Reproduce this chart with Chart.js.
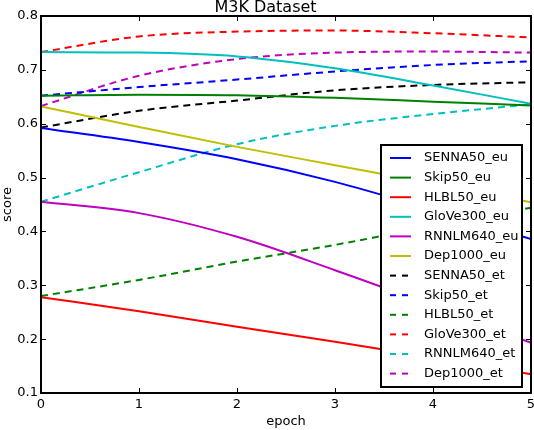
<!DOCTYPE html>
<html>
<head>
<meta charset="utf-8">
<script src="https://cdn.jsdelivr.net/npm/chart.js@4"></script>
<style>
  body { margin: 0; background: #fff; }
  canvas { display: block; }
</style>
</head>
<body>
<canvas id="scoreChart" width="534" height="430"></canvas>
<script>
// values at every epoch
const epochs = [0, 1, 2, 3, 4, 5];
const yTicks = [0.1, 0.2, 0.3, 0.4, 0.5, 0.6, 0.7, 0.8];

const senna50Eu  = [0.592, 0.566, 0.534, 0.492, 0.440, 0.386];
const skip50Eu   = [0.652, 0.654, 0.653, 0.648, 0.641, 0.634];
const hlbl50Eu   = [0.278, 0.252, 0.223, 0.195, 0.166, 0.135];
const glove300Eu = [0.733, 0.732, 0.725, 0.703, 0.671, 0.637];
const rnnlm640Eu = [0.455, 0.434, 0.390, 0.328, 0.262, 0.193];
const dep1000Eu  = [0.632, 0.594, 0.557, 0.523, 0.489, 0.454];
const senna50Et  = [0.593, 0.624, 0.643, 0.662, 0.672, 0.677];
const skip50Et   = [0.652, 0.668, 0.682, 0.697, 0.709, 0.716];
const hlbl50Et   = [0.280, 0.310, 0.344, 0.375, 0.410, 0.444];
const glove300Et = [0.733, 0.762, 0.771, 0.773, 0.768, 0.760];
const rnnlm640Et = [0.455, 0.510, 0.562, 0.596, 0.618, 0.636];
const dep1000Et  = [0.633, 0.689, 0.720, 0.732, 0.734, 0.732];

const FONT = "'DejaVu Sans', sans-serif";

function line(label, values, color, dashed) {
  return {
    label: label,
    data: epochs.map((e, i) => ({ x: e, y: values[i] })),
    borderColor: color,
    backgroundColor: color,
    borderWidth: 2,
    borderDash: dashed ? [7, 5] : [],
    pointRadius: 0,
    fill: false,
    cubicInterpolationMode: 'monotone'
  };
}

// frame + inward ticks, matplotlib classic look
const frameTicks = {
  id: 'frameTicks',
  afterDatasetsDraw(chart) {
    const ctx = chart.ctx, a = chart.chartArea;
    const xs = chart.scales.x, ys = chart.scales.y;
    ctx.save();
    ctx.strokeStyle = '#000';
    ctx.lineWidth = 1;
    ctx.beginPath();
    epochs.forEach(e => {
      const px = Math.round(xs.getPixelForValue(e)) + 0.5;
      ctx.moveTo(px, a.bottom); ctx.lineTo(px, a.bottom - 5);
      ctx.moveTo(px, a.top); ctx.lineTo(px, a.top + 5);
    });
    yTicks.forEach(v => {
      const py = Math.round(ys.getPixelForValue(v)) + 0.5;
      ctx.moveTo(a.left, py); ctx.lineTo(a.left + 5, py);
      ctx.moveTo(a.right, py); ctx.lineTo(a.right - 5, py);
    });
    ctx.stroke();
    ctx.lineWidth = 2;
    ctx.strokeRect(a.left, a.top, a.right - a.left, a.bottom - a.top);
    ctx.restore();
  }
};

// legend box inside the plot, lower right
const innerLegend = {
  id: 'innerLegend',
  afterDraw(chart) {
    const ctx = chart.ctx, a = chart.chartArea;
    const w = 141, h = 242;
    const left = a.right - 9 - w, top = a.bottom - 6 - h;
    ctx.save();
    ctx.fillStyle = '#fff';
    ctx.fillRect(left, top, w, h);
    ctx.strokeStyle = '#000';
    ctx.lineWidth = 2;
    ctx.strokeRect(left, top, w, h);
    ctx.font = '13px ' + FONT;
    ctx.textBaseline = 'middle';
    chart.data.datasets.forEach((ds, i) => {
      const y = top + 13 + i * 19.6;
      ctx.strokeStyle = ds.borderColor;
      ctx.lineWidth = 2;
      ctx.setLineDash(ds.borderDash.length ? [6, 6] : []);
      ctx.beginPath();
      ctx.moveTo(left + 9, y);
      ctx.lineTo(left + 30, y);
      ctx.stroke();
      ctx.setLineDash([]);
      ctx.fillStyle = '#000';
      ctx.fillText(ds.label, left + 43, y);
    });
    ctx.restore();
  }
};

new Chart(document.getElementById('scoreChart'), {
  type: 'line',
  data: {
    datasets: [
      line('SENNA50_eu', senna50Eu, '#0000ff', false),
      line('Skip50_eu', skip50Eu, '#008000', false),
      line('HLBL50_eu', hlbl50Eu, '#ff0000', false),
      line('GloVe300_eu', glove300Eu, '#00bfbf', false),
      line('RNNLM640_eu', rnnlm640Eu, '#bf00bf', false),
      line('Dep1000_eu', dep1000Eu, '#bfbf00', false),
      line('SENNA50_et', senna50Et, '#000000', true),
      line('Skip50_et', skip50Et, '#0000ff', true),
      line('HLBL50_et', hlbl50Et, '#008000', true),
      line('GloVe300_et', glove300Et, '#ff0000', true),
      line('RNNLM640_et', rnnlm640Et, '#00bfbf', true),
      line('Dep1000_et', dep1000Et, '#bf00bf', true)
    ]
  },
  options: {
    responsive: false,
    animation: false,
    devicePixelRatio: 1,
    layout: { padding: { left: 0, right: 3, top: 0, bottom: 0 } },
    plugins: {
      legend: { display: false },
      tooltip: { enabled: false },
      title: {
        display: true,
        text: 'M3K Dataset',
        color: '#000',
        font: { family: FONT, size: 16, weight: 'normal', lineHeight: 1 },
        padding: { top: 0, bottom: 0 }
      }
    },
    scales: {
      x: {
        type: 'linear',
        min: 0,
        max: 5,
        grid: { display: false, drawTicks: false },
        border: { display: false },
        ticks: {
          stepSize: 1,
          color: '#000',
          padding: 4,
          maxRotation: 0,
          font: { family: FONT, size: 13 }
        },
        title: {
          display: true,
          text: 'epoch',
          color: '#000',
          font: { family: FONT, size: 13 },
          padding: { top: 0, bottom: 1 }
        },
        afterFit(s) { s.height = 37; s.paddingRight = 0; s.paddingLeft = 0; }
      },
      y: {
        min: 0.1,
        max: 0.8,
        grid: { display: false, drawTicks: false },
        border: { display: false },
        ticks: {
          stepSize: 0.1,
          color: '#000',
          padding: 3,
          font: { family: FONT, size: 13 },
          callback: v => v.toFixed(1)
        },
        title: {
          display: true,
          text: 'score',
          color: '#000',
          font: { family: FONT, size: 13 },
          padding: 0
        },
        afterFit(s) { s.width = 41; s.paddingTop = 0; s.paddingBottom = 0; }
      }
    }
  },
  plugins: [frameTicks, innerLegend]
});
</script>
</body>
</html>
